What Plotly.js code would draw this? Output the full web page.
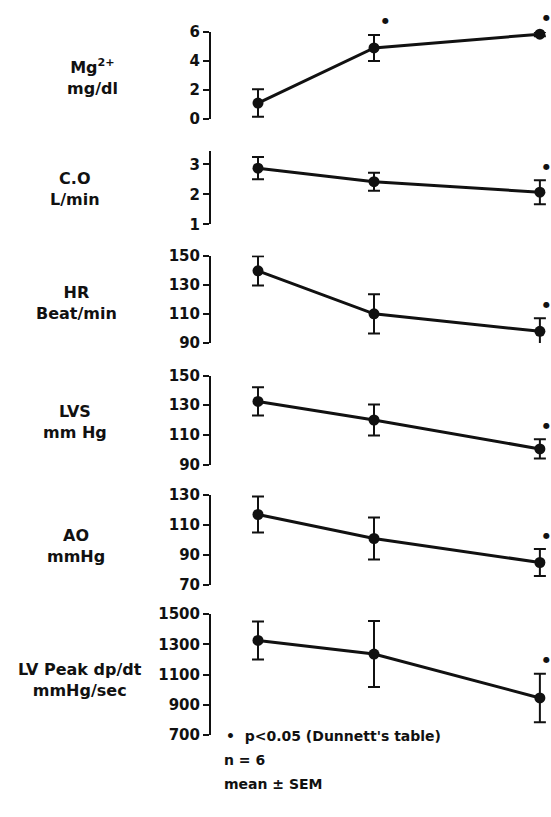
<!DOCTYPE html>
<html>
<head>
<meta charset="utf-8">
<script src="https://cdn.plot.ly/plotly-3.0.1.min.js"></script>
<style>html,body{margin:0;padding:0;background:#fff;}#chart{width:551px;height:817px;}</style>
</head>
<body>
<div id="chart"></div>
<script>
// ---- data ----
var timePoints = [0, 1, 2.43];

var panelNames = ["Mg<sup>2+</sup><br>mg/dl", "C.O<br>L/min", "HR<br>Beat/min", "LVS<br>mm Hg", "AO<br>mmHg", "LV Peak dp/dt<br>mmHg/sec"];

var mgMean = [1.1, 4.9, 5.85];
var mgSem = [0.95, 0.9, 0.15];
var mgSig = [false, true, true];
var mgTicks = [0, 2, 4, 6];

var coMean = [2.87, 2.42, 2.07];
var coSem = [0.37, 0.3, 0.4];
var coSig = [false, false, true];
var coTicks = [1, 2, 3];

var hrMean = [139.5, 110, 98];
var hrSem = [10, 13.5, 9];
var hrSig = [false, false, true];
var hrTicks = [90, 110, 130, 150];

var lvsMean = [132.5, 120, 100.5];
var lvsSem = [9.5, 10.5, 6.5];
var lvsSig = [false, false, true];
var lvsTicks = [90, 110, 130, 150];

var aoMean = [117, 101, 85];
var aoSem = [12, 14, 9];
var aoSig = [false, false, true];
var aoTicks = [70, 90, 110, 130];

var dpdtMean = [1325, 1235, 945];
var dpdtSem = [125, 218, 160];
var dpdtSig = [false, false, true];
var dpdtTicks = [700, 900, 1100, 1300, 1500];

var footnotes = ["\u2022  p<0.05 (Dunnett's table)", "n = 6", "mean \u00b1 SEM"];

// ---- layout geometry (pixels) ----
var W = 551, H = 817;
var panels = [
  {mean: mgMean, sem: mgSem, sig: mgSig, ticks: mgTicks, range: [0, 6], top: 32, bottom: 119, labelY: 77},
  {mean: coMean, sem: coSem, sig: coSig, ticks: coTicks, range: [1, 3.45], top: 150.8, bottom: 224.3, labelY: 189},
  {mean: hrMean, sem: hrSem, sig: hrSig, ticks: hrTicks, range: [90, 150], top: 255.5, bottom: 343, labelY: 303},
  {mean: lvsMean, sem: lvsSem, sig: lvsSig, ticks: lvsTicks, range: [90, 150], top: 375.5, bottom: 464.5, labelY: 422},
  {mean: aoMean, sem: aoSem, sig: aoSig, ticks: aoTicks, range: [70, 130], top: 495, bottom: 585, labelY: 546},
  {mean: dpdtMean, sem: dpdtSem, sig: dpdtSig, ticks: dpdtTicks, range: [700, 1500], top: 614, bottom: 735, labelY: 680}
];
var labelX = [92, 75, 76, 75, 76, 80];

var fontFam = "DejaVu Sans";
var axisLeftPx = 211, firstPx = 258, unitPx = 116;

var data = [];
var annotations = [];
var layout = {
  width: W, height: H,
  margin: {l: 0, r: 0, t: 0, b: 0},
  paper_bgcolor: "#fff", plot_bgcolor: "rgba(0,0,0,0)",
  showlegend: false,
  xaxis: {
    domain: [axisLeftPx / W, 1],
    range: [timePoints[0] - (firstPx - axisLeftPx) / unitPx, timePoints[0] + (W - firstPx) / unitPx],
    visible: false, fixedrange: true
  }
};

panels.forEach(function (p, i) {
  var yname = i === 0 ? "y" : "y" + (i + 1);
  var lname = i === 0 ? "yaxis" : "yaxis" + (i + 1);
  layout[lname] = {
    domain: [1 - p.bottom / H, 1 - p.top / H],
    range: p.range,
    anchor: "x",
    showline: true, linecolor: "#111", linewidth: 2,
    ticks: "outside", ticklen: 6, tickwidth: 2, tickcolor: "#111",
    tickvals: p.ticks, ticktext: p.ticks.map(String),
    showgrid: false, zeroline: false,
    tickfont: {family: fontFam, size: 15, color: "#111", weight: "bold"},
    fixedrange: true
  };
  data.push({
    type: "scatter", mode: "lines+markers",
    x: timePoints, y: p.mean,
    xaxis: "x", yaxis: yname,
    line: {color: "#111", width: 3},
    marker: {color: "#111", size: 11},
    error_y: {type: "data", array: p.sem, visible: true, color: "#111", thickness: 2, width: 6},
    cliponaxis: false, hoverinfo: "skip"
  });
  // significance dots, just above-right of the error-bar tip
  p.sig.forEach(function (s, j) {
    if (s) {
      annotations.push({
        x: timePoints[j], y: p.mean[j] + p.sem[j], xref: "x", yref: yname,
        text: "\u25CF", showarrow: false, xshift: (j === 2 ? 7 : 11), yshift: 14,
        font: {family: fontFam, size: 8, color: "#111"}
      });
    }
  });
  annotations.push({
    x: labelX[i] / W, y: 1 - p.labelY / H, xref: "paper", yref: "paper",
    text: panelNames[i], showarrow: false, align: "center",
    xanchor: "center", yanchor: "middle",
    font: {family: fontFam, size: 16, color: "#111", weight: "bold"}
  });
});

var footY = [736, 760, 784];
footnotes.forEach(function (t, k) {
  annotations.push({
    x: (k === 0 ? 224 : 222) / W, y: 1 - footY[k] / H, xref: "paper", yref: "paper",
    text: t, showarrow: false, xanchor: "left", yanchor: "middle",
    font: {family: fontFam, size: 14, color: "#111", weight: "bold"}
  });
});
layout.annotations = annotations;

Plotly.newPlot("chart", data, layout, {staticPlot: true, displayModeBar: false});
</script>
</body>
</html>
